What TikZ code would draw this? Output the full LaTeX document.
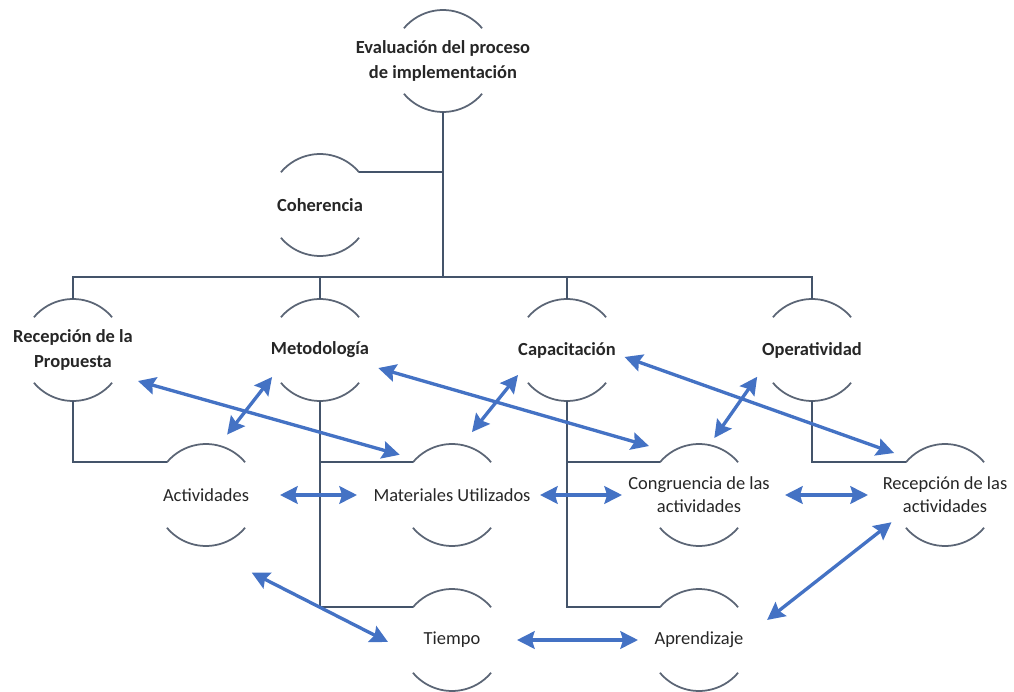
\documentclass[tikz,border=0pt]{standalone}
\usepackage{fontspec}
\setmainfont{Carlito}
\usetikzlibrary{calc,arrows.meta}
\definecolor{treeline}{HTML}{44546A}
\definecolor{arcline}{HTML}{5B6575}
\definecolor{linkblue}{HTML}{4472C4}

\begin{document}
\begin{tikzpicture}[x=0.02cm,y=0.02cm,
    concept/.style={circle,minimum size=2.04cm,inner sep=0pt,outer sep=0pt},
    every label/.style={align=center,font=\fontsize{10.5}{13}\selectfont,text=black!85},
    head/.style={label={[font=\fontsize{10.5}{14.5}\selectfont\bfseries]center:{#1}}},
    leaf/.style={label={center:{#1}}},
    bowl/.style={draw=arcline,line width=1pt},
    tree/.style={draw=treeline,line width=1.1pt},
    link/.style={draw=linkblue,line width=1.9pt,{Stealth[length=10pt,width=10pt,inset=1.5pt]}-{Stealth[length=10pt,width=10pt,inset=1.5pt]}}]
  \useasboundingbox (0,0) rectangle (1014,691);

  \node[concept,head={Evaluación del proceso\\de implementación}] (eval) at (443,630) {};
  \node[concept,head={Coherencia}] (coh) at (320,486) {};

  \node[concept,head={Recepción de la\\Propuesta}] (rec) at (73,341) {};
  \node[concept,head={Metodología}] (met) at (320,341) {};
  \node[concept,head={Capacitación}] (cap) at (567,341) {};
  \node[concept,head={Operatividad}] (ope) at (812,341) {};

  \node[concept,leaf={Actividades}] (act) at (206,196) {};
  \node[concept,leaf={Materiales Utilizados}] (mat) at (452,196) {};
  \node[concept,leaf={Congruencia de las\\actividades}] (con) at (699,196) {};
  \node[concept,leaf={Recepción de las\\actividades}] (rea) at (945,196) {};
  \node[concept,leaf={Tiempo}] (tie) at (452,51) {};
  \node[concept,leaf={Aprendizaje}] (apr) at (699,51) {};

  % arcs above and below each concept
  \foreach \n in {eval,coh,rec,met,cap,ope,act,mat,con,rea,tie,apr}
    \draw[bowl] (\n.40) arc[start angle=40,end angle=140,radius=1.02cm]
                (\n.220) arc[start angle=220,end angle=320,radius=1.02cm];

  % tree
  \coordinate (bus) at (73,414);
  \draw[tree] (eval.south) -- (eval.south |- bus);
  \draw[tree] (coh.40) -- (coh.40 -| eval.south);
  \draw[tree] (rec.north) -- (bus) -| (ope.north);
  \foreach \n in {met,cap}
    \draw[tree] (\n.north) -- (\n.north |- bus);
  \draw[tree] (rec.south) |- (act.140);
  \draw[tree] (met.south) |- (tie.140);
  \draw[tree] (met.south |- mat.140) -- (mat.140);
  \draw[tree] (cap.south) |- (apr.140);
  \draw[tree] (cap.south |- con.140) -- (con.140);
  \draw[tree] (ope.south) |- (rea.140);

  % relations
  \draw[link] ($(rec)+(-25.5:72)$) -- ($(mat)+(142.4:66)$);
  \draw[link] ($(met)+(209.4:55)$) -- ($(act)+(70.7:64)$);
  \draw[link] ($(met)+(-17.2:61)$) -- ($(con)+(135.6:70)$);
  \draw[link] ($(cap)+(207:55)$) -- ($(mat)+(72.4:66)$);
  \draw[link] ($(cap)+(-6.9:58)$) -- ($(rea)+(140.5:66)$);
  \draw[link] ($(ope)+(206:61)$) -- ($(con)+(75:59)$);
  \draw[link] ($(act)+(0:74)$) -- ($(mat)+(180:95)$);
  \draw[link] ($(mat)+(0:88)$) -- ($(con)+(180:77)$);
  \draw[link] ($(con)+(0:86)$) -- ($(rea)+(180:77)$);
  \draw[link] ($(act)+(-59.5:90)$) -- ($(tie)+(181.8:64)$);
  \draw[link] ($(tie)+(0:65)$) -- ($(apr)+(180:61)$);
  \draw[link] ($(apr)+(16.4:71)$) -- ($(rea)+(207:60)$);
\end{tikzpicture}
\end{document}
